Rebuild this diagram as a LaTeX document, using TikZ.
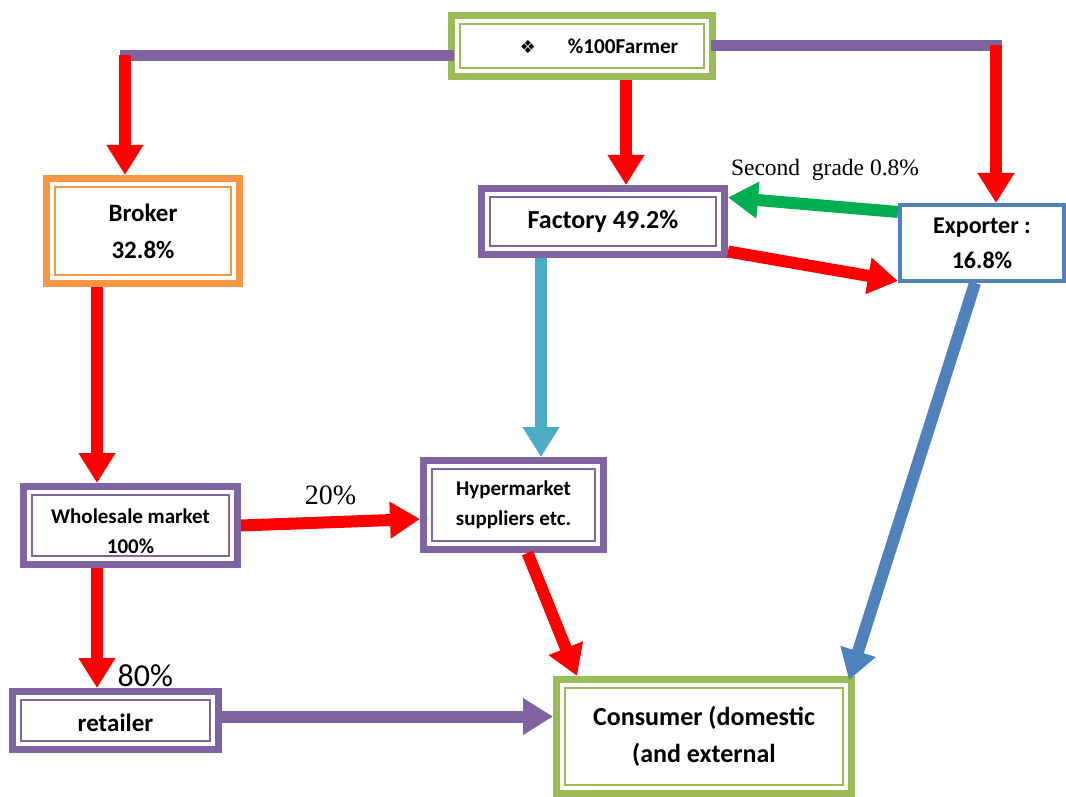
\documentclass[tikz,border=0pt]{standalone}
\usepackage{fontspec}
\setmainfont{Carlito}
\newfontfamily\timesfont{Liberation Serif}
\newfontfamily\symbfont{DejaVu Sans}
\usepackage{xcolor}
\usetikzlibrary{arrows.meta}
\definecolor{boxpurple}{HTML}{8064A2}
\definecolor{boxgreen}{HTML}{9BBB59}
\definecolor{boxorange}{HTML}{F79646}
\definecolor{boxblue}{HTML}{4F81BD}
\definecolor{flowred}{HTML}{FF0000}
\definecolor{flowgreen}{HTML}{00B050}
\definecolor{flowcyan}{HTML}{4BACC6}
\tikzset{
	framebox/.style={draw=#1, line width=3.5pt, fill=white, inner sep=0pt, align=center,
		path picture={\draw[#1, line width=0.9pt] ([shift={(4.2pt,-4.2pt)}]path picture bounding box.north west) rectangle ([shift={(-4.2pt,4.2pt)}]path picture bounding box.south east);}},
	flow/.style={draw=#1, line width=6pt, -{Triangle[width=17.5pt,length=15pt]}},
	joint/.style={draw=boxpurple, line width=5.5pt, line cap=rect}
}

\begin{document}
\begin{tikzpicture}[x=0.5pt,y=-0.5pt]
	\useasboundingbox (0,0) rectangle (1066,797);
	\node[framebox=boxgreen, minimum width=130.5pt, minimum height=30.5pt, font=\bfseries\fontsize{10.6}{13}\selectfont] (farmer) at (582,46) {\hspace*{17pt}{\symbfont\small ❖}\hspace{16pt}\%100Farmer};
	\node[framebox=boxorange, minimum width=96.5pt, minimum height=52.5pt, font=\bfseries\fontsize{12.5}{18.5}\selectfont] (broker) at (143,231) {Broker\\32.8\%};
	\node[framebox=boxpurple, minimum width=121.5pt, minimum height=33pt, font=\bfseries\fontsize{13}{16}\selectfont] (factory) at (603,221.5) {Factory 49.2\%};
	\node[draw=boxblue, line width=2pt, fill=white, inner sep=0pt, align=center, minimum width=82pt, minimum height=38pt, font=\bfseries\fontsize{12}{17.5}\selectfont] (exporter) at (982,243) {Exporter :\\16.8\%};
	\node[framebox=boxpurple, minimum width=107pt, minimum height=39pt, font=\bfseries\fontsize{10.5}{15}\selectfont] (wholesale) at (130.5,525.5) {\rule{0pt}{13pt}Wholesale market\\100\%};
	\node[framebox=boxpurple, minimum width=90pt, minimum height=44.5pt, font=\bfseries\fontsize{10.5}{15}\selectfont] (hyper) at (513.5,505) {Hypermarket\\suppliers etc.};
	\node[framebox=boxpurple, minimum width=103pt, minimum height=29pt, font=\bfseries\fontsize{12.5}{15}\selectfont] (retailer) at (115.5,720.5) {\rule{0pt}{11pt}retailer};
	\node[framebox=boxgreen, minimum width=147.5pt, minimum height=57pt, font=\bfseries\fontsize{13}{18.5}\selectfont] (consumer) at (704,736.5) {Consumer (domestic\\(and external};

	\coordinate (lturn) at (125,55.5);
	\coordinate (rturn) at (996,45.5);
	\coordinate (brokerout) at ([xshift=-23pt]broker.south);
	\coordinate (wholeout) at (wholesale.south -| brokerout);
	\coordinate (factoryout) at ([xshift=-31pt]factory.south);

	\draw[joint] (farmer.west |- lturn) -- (lturn);
	\draw[joint] (farmer.east |- rturn) -- (rturn);
	\draw[flow=flowred] (lturn) -- (lturn |- broker.north);
	\draw[flow=flowred] (rturn) -- (rturn |- exporter.north);
	\draw[flow=flowred] ([xshift=22pt]farmer.south) -- ([xshift=11.5pt]factory.north);
	\draw[flow=flowgreen] ([yshift=15.5pt]exporter.west) -- node[yshift=17.5pt, xshift=6pt, font=\timesfont\fontsize{11.75}{14}\selectfont] {Second\ \ grade 0.8\%} ([yshift=12pt]factory.east);
	\draw[flow=flowred] ([yshift=-15pt]factory.east) -- ([yshift=1pt]exporter.south west);
	\draw[flow=flowcyan] (factoryout) -- (factoryout |- hyper.north);
	\draw[flow=boxblue] ([xshift=-3.5pt]exporter.south) -- ([xshift=-3pt,yshift=-2pt]consumer.north east);
	\draw[flow=flowred] (brokerout) -- (brokerout |- wholesale.north);
	\draw[flow=flowred] (wholesale.east) -- node[yshift=13.5pt, font=\timesfont\fontsize{14}{16}\selectfont] {20\%} ([yshift=-7pt]hyper.west);
	\draw[flow=flowred] (wholeout) -- node[pos=0.9, right=4pt, font=\fontsize{16}{18}\selectfont] {80\%} (wholeout |- retailer.north);
	\draw[flow=flowred] ([xshift=7pt]hyper.south) -- ([xshift=12pt]consumer.north west);
	\draw[flow=boxpurple] ([yshift=2pt]retailer.east) -- ([yshift=2pt]retailer.east -| consumer.west);
\end{tikzpicture}
\end{document}
